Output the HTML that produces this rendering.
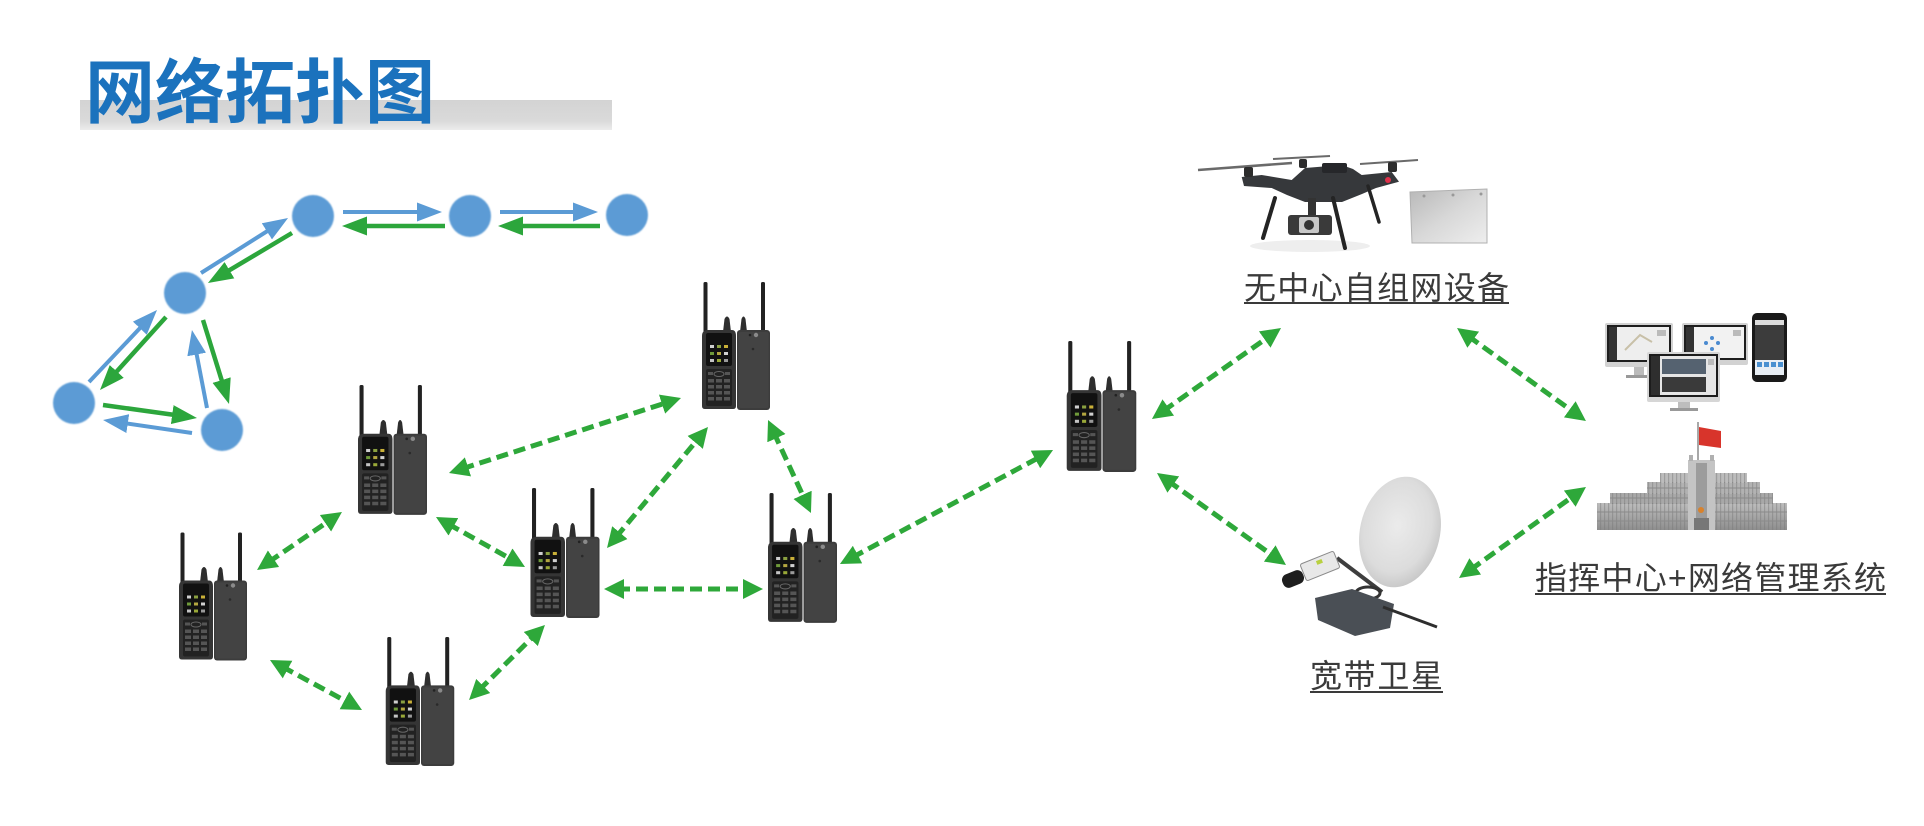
<!DOCTYPE html>
<html>
<head>
<meta charset="utf-8">
<style>
  html, body { margin:0; padding:0; background:#ffffff; }
  svg { display:block; }
</style>
</head>
<body>
<svg width="1924" height="826" viewBox="0 0 1924 826" xmlns="http://www.w3.org/2000/svg">
  <defs>
    <linearGradient id="bar" x1="0" y1="0" x2="0" y2="1">
      <stop offset="0" stop-color="#d3d3d3"/>
      <stop offset="0.7" stop-color="#dadada"/>
      <stop offset="1" stop-color="#ececec"/>
    </linearGradient>
    <linearGradient id="panelg" x1="0" y1="0" x2="1" y2="1">
      <stop offset="0" stop-color="#b8b8b8"/>
      <stop offset="0.5" stop-color="#d8d8d8"/>
      <stop offset="1" stop-color="#eeeeee"/>
    </linearGradient>
    <radialGradient id="dishg" cx="0.45" cy="0.45" r="0.6">
      <stop offset="0" stop-color="#ebebeb"/>
      <stop offset="0.7" stop-color="#dcdcdc"/>
      <stop offset="1" stop-color="#c4c4c4"/>
    </radialGradient>
    <linearGradient id="bldg" x1="0" y1="0" x2="0" y2="1">
      <stop offset="0" stop-color="#bdbdbd"/>
      <stop offset="1" stop-color="#8e8e8e"/>
    </linearGradient>
    <pattern id="win" width="4" height="4" patternUnits="userSpaceOnUse">
      <rect x="0" y="0" width="4" height="4" fill="none"/>
      <rect x="0" y="0" width="1.2" height="4" fill="#777" opacity="0.45"/>
    </pattern>
    <filter id="soft" x="-20%" y="-20%" width="140%" height="140%">
      <feGaussianBlur stdDeviation="0.8"/>
    </filter>
    <marker id="hd" viewBox="0 -10 20 20" refX="6" refY="0" markerWidth="20" markerHeight="20" markerUnits="userSpaceOnUse" orient="auto-start-reverse">
      <path d="M0,-10 L20,0 L0,10 z" fill="#2ea83a"/>
    </marker>
    <marker id="hg" viewBox="0 -10 25 20" refX="11" refY="0" markerWidth="25" markerHeight="20" markerUnits="userSpaceOnUse" orient="auto">
      <path d="M0,-9.5 L25,0 L0,9.5 z" fill="#2ca63c"/>
    </marker>
    <marker id="hb" viewBox="0 -10 25 20" refX="11" refY="0" markerWidth="25" markerHeight="20" markerUnits="userSpaceOnUse" orient="auto">
      <path d="M0,-9.5 L25,0 L0,9.5 z" fill="#5b9bd5"/>
    </marker>

    <!-- walkie-talkie pair -->
    <symbol id="wt" viewBox="0 0 68 130">
      <rect x="1.5" y="0" width="4" height="52" rx="1.5" fill="#222"/>
      <rect x="59" y="0" width="4" height="52" rx="1.5" fill="#222"/>
      <path d="M21,50 L22.5,37 Q25,32 27.5,37 L29,50 z" fill="#2e2e2e"/>
      <path d="M38,50 L39.5,37 Q41.5,32 43.5,37 L45,50 z" fill="#2e2e2e"/>
      <path d="M0,54 Q0,48 6,48 L30,48 Q34,48 34,54 L34,124 Q34,127 31,127 L3,127 Q0,127 0,124 z" fill="#353535"/>
      <rect x="4" y="51" width="26" height="33" rx="2" fill="#111"/>
      <rect x="8" y="63" width="4" height="3" fill="#cfcfcf"/>
      <rect x="15" y="63" width="4" height="3" fill="#8aa040"/>
      <rect x="22" y="63" width="4" height="3" fill="#c9b038"/>
      <rect x="8" y="70" width="4" height="3" fill="#6f9a3a"/>
      <rect x="15" y="70" width="4" height="3" fill="#b3a640"/>
      <rect x="22" y="70" width="4" height="3" fill="#d0d0d0"/>
      <rect x="8" y="77" width="4" height="3" fill="#c4c4c4"/>
      <rect x="15" y="77" width="4" height="3" fill="#99a838"/>
      <rect x="22" y="77" width="4" height="3" fill="#9a9a9a"/>
      <rect x="4" y="87" width="26" height="37" rx="2" fill="#222"/>
      <ellipse cx="17" cy="92" rx="5" ry="2.5" fill="none" stroke="#666" stroke-width="1"/>
      <rect x="6" y="90" width="5" height="3" fill="#555"/>
      <rect x="23" y="90" width="5" height="3" fill="#555"/>
      <g fill="#555">
        <rect x="6" y="97" width="6" height="3.5"/><rect x="14" y="97" width="6" height="3.5"/><rect x="22" y="97" width="6" height="3.5"/>
        <rect x="6" y="103" width="6" height="3.5"/><rect x="14" y="103" width="6" height="3.5"/><rect x="22" y="103" width="6" height="3.5"/>
        <rect x="6" y="109" width="6" height="3.5"/><rect x="14" y="109" width="6" height="3.5"/><rect x="22" y="109" width="6" height="3.5"/>
        <rect x="6" y="115" width="6" height="3.5"/><rect x="14" y="115" width="6" height="3.5"/><rect x="22" y="115" width="6" height="3.5"/>
      </g>
      <rect x="35" y="48" width="33" height="80" rx="3" fill="#3c3c3c"/>
      <rect x="36.5" y="50" width="30" height="76" rx="2" fill="#434343"/>
      <circle cx="54" cy="53" r="2.2" fill="#8a8a8a"/>
      <circle cx="48" cy="53" r="1.3" fill="#222"/>
      <circle cx="51" cy="67" r="1.3" fill="#2a2a2a"/>
    </symbol>
  </defs>

  <rect width="1924" height="826" fill="#ffffff"/>

  <!-- Title -->
  <rect x="80" y="100" width="532" height="30" fill="url(#bar)"/>
  <text x="85" y="117" font-family="'Liberation Sans','Noto Sans CJK SC',sans-serif" font-weight="bold" font-size="70" fill="#1b72bd" textLength="350" lengthAdjust="spacing">网络拓扑图</text>

  <!-- Mesh diagram: solid arrows -->
  <g stroke-width="4" fill="none">
    <line x1="343" y1="212" x2="428" y2="212" stroke="#5b9bd5" marker-end="url(#hb)"/>
    <line x1="445" y1="226" x2="356" y2="226" stroke="#2ca63c" stroke-width="4.5" marker-end="url(#hg)"/>
    <line x1="500" y1="212" x2="584" y2="212" stroke="#5b9bd5" marker-end="url(#hb)"/>
    <line x1="600" y1="226" x2="512" y2="226" stroke="#2ca63c" stroke-width="4.5" marker-end="url(#hg)"/>
    <line x1="201" y1="273" x2="276.2" y2="225.5" stroke="#5b9bd5" marker-end="url(#hb)"/>
    <line x1="292" y1="233" x2="220" y2="275.8" stroke="#2ca63c" stroke-width="4.5" marker-end="url(#hg)"/>
    <line x1="89" y1="382" x2="147.4" y2="320.2" stroke="#5b9bd5" marker-end="url(#hb)"/>
    <line x1="166" y1="317" x2="109.4" y2="379.6" stroke="#2ca63c" stroke-width="4.5" marker-end="url(#hg)"/>
    <line x1="207" y1="408" x2="194.6" y2="343.7" stroke="#5b9bd5" marker-end="url(#hb)"/>
    <line x1="203" y1="320" x2="224.9" y2="390.6" stroke="#2ca63c" stroke-width="4.5" marker-end="url(#hg)"/>
    <line x1="103" y1="405" x2="183.1" y2="416.1" stroke="#2ca63c" stroke-width="4.5" marker-end="url(#hg)"/>
    <line x1="192" y1="433" x2="116.9" y2="422" stroke="#5b9bd5" marker-end="url(#hb)"/>
  </g>

  <!-- Mesh circles -->
  <g fill="#5b9bd5" filter="url(#soft)">
    <circle cx="313" cy="216" r="21"/>
    <circle cx="470" cy="216" r="21"/>
    <circle cx="627" cy="215" r="21"/>
    <circle cx="185" cy="293" r="21"/>
    <circle cx="74" cy="403" r="21"/>
    <circle cx="222" cy="430" r="21"/>
  </g>

  <!-- Dashed double-headed connectors -->
  <g stroke="#2ea83a" stroke-width="5" stroke-dasharray="12 6" fill="none" marker-start="url(#hd)" marker-end="url(#hd)">
    <line x1="268.6" y1="562.1" x2="330.4" y2="519.9"/>
    <line x1="282.3" y1="666.7" x2="349.7" y2="703.3"/>
    <line x1="479" y1="690.2" x2="535" y2="634.8"/>
    <line x1="462.3" y1="468.7" x2="667.7" y2="402.3"/>
    <line x1="448.2" y1="523.9" x2="512.8" y2="560.1"/>
    <line x1="616" y1="537.2" x2="699" y2="437.8"/>
    <line x1="618" y1="589" x2="749" y2="589"/>
    <line x1="773.9" y1="432.7" x2="805.1" y2="500.3"/>
    <line x1="852.3" y1="557.4" x2="1040.7" y2="456.6"/>
    <line x1="1163.4" y1="410.9" x2="1269.6" y2="336.1"/>
    <line x1="1168.4" y1="481.1" x2="1274.6" y2="556.9"/>
    <line x1="1468.4" y1="336.2" x2="1574.6" y2="412.8"/>
    <line x1="1470.4" y1="569.8" x2="1574.6" y2="495.2"/>
  </g>

  <!-- Walkie-talkies -->
  <use href="#wt" x="179" y="532" width="68" height="131"/>
  <use href="#wt" x="358" y="385" width="69" height="132"/>
  <use href="#wt" x="702" y="282" width="68" height="130"/>
  <use href="#wt" x="530" y="488" width="70" height="132"/>
  <use href="#wt" x="385" y="637" width="70" height="131"/>
  <use href="#wt" x="768" y="493" width="69" height="132"/>
  <use href="#wt" x="1065" y="341" width="73" height="133"/>

  <!-- Drone -->
  <g>
    <ellipse cx="1310" cy="246" rx="60" ry="6" fill="#eeeeee"/>
    <line x1="1198" y1="170" x2="1292" y2="163" stroke="#6a6a6a" stroke-width="2.5"/>
    <line x1="1273" y1="159" x2="1330" y2="156" stroke="#6a6a6a" stroke-width="2"/>
    <line x1="1360" y1="164" x2="1418" y2="160" stroke="#6a6a6a" stroke-width="2"/>
    <polygon points="1241.7,177 1261.7,175 1291.7,180 1305,168 1341.7,165 1353,169 1361.7,175 1391.7,172 1399,181.7 1376,188 1362,194 1342,202 1305,202 1287,195 1271.7,188 1244,186" fill="#36383b"/>
    <rect x="1322" y="163" width="25" height="10" rx="2" fill="#26272a"/>
    <rect x="1244" y="167" width="9" height="10" rx="2" fill="#2c2c2c"/>
    <rect x="1299" y="159" width="8" height="9" rx="2" fill="#2c2c2c"/>
    <rect x="1388" y="162" width="9" height="10" rx="2" fill="#2c2c2c"/>
    <circle cx="1388" cy="180" r="3" fill="#e0304a"/>
    <line x1="1275" y1="198" x2="1263" y2="238" stroke="#242424" stroke-width="4" stroke-linecap="round"/>
    <line x1="1333" y1="198" x2="1345" y2="248" stroke="#242424" stroke-width="4" stroke-linecap="round"/>
    <line x1="1368" y1="186" x2="1379" y2="222" stroke="#242424" stroke-width="3.5" stroke-linecap="round"/>
    <rect x="1308" y="198" width="8" height="18" fill="#333"/>
    <rect x="1288" y="215" width="44" height="20" rx="3" fill="#3a3a3a"/>
    <rect x="1299" y="217" width="20" height="16" rx="2" fill="#c8c8c8"/>
    <circle cx="1309" cy="225" r="5" fill="#333"/>
  </g>
  <!-- Panel -->
  <polygon points="1410,192 1487,189 1487,243 1412,243" fill="url(#panelg)" stroke="#b0b0b0" stroke-width="1"/>
  <g fill="#999"><circle cx="1424" cy="196" r="1.5"/><circle cx="1453" cy="195" r="1.5"/><circle cx="1481" cy="194" r="1.5"/></g>

  <!-- Labels -->
  <g font-family="'Liberation Sans','Noto Sans CJK SC',sans-serif" font-size="32" fill="#3a3a3a">
    <text x="1244" y="299" textLength="265" lengthAdjust="spacing">无中心自组网设备</text>
    <text x="1310" y="687" textLength="133" lengthAdjust="spacing">宽带卫星</text>
    <text x="1535" y="589" textLength="351" lengthAdjust="spacing">指挥中心+网络管理系统</text>
  </g>
  <g fill="#3a3a3a">
    <rect x="1244" y="302" width="265" height="2"/>
    <rect x="1310" y="691" width="133" height="2"/>
    <rect x="1535" y="593" width="351" height="2"/>
  </g>

  <!-- Monitors -->
  <g>
    <rect x="1605" y="323" width="68" height="44" rx="2" fill="#d2d2d2"/>
    <rect x="1607" y="325" width="64" height="37" fill="#1e1e1e"/>
    <rect x="1609" y="327" width="60" height="33" fill="#eeeeee"/>
    <rect x="1609" y="327" width="8" height="33" fill="#333"/>
    <path d="M1625,350 L1640,335 L1652,342" stroke="#c8c0a8" stroke-width="2" fill="none"/>
    <rect x="1657" y="330" width="9" height="6" fill="#bbb"/>
    <rect x="1634" y="367" width="10" height="8" fill="#bbb"/>
    <rect x="1626" y="375" width="26" height="3" fill="#999"/>

    <rect x="1682" y="323" width="66" height="42" rx="2" fill="#d2d2d2"/>
    <rect x="1684" y="325" width="62" height="35" fill="#1e1e1e"/>
    <rect x="1686" y="327" width="58" height="31" fill="#f2f2f2"/>
    <rect x="1686" y="327" width="8" height="31" fill="#333"/>
    <g fill="#4a8ad0"><circle cx="1712" cy="338" r="2"/><circle cx="1706" cy="343" r="2"/><circle cx="1718" cy="343" r="2"/><circle cx="1712" cy="349" r="2"/></g>
    <rect x="1733" y="330" width="8" height="6" fill="#bbb"/>

    <rect x="1647" y="352" width="73" height="50" rx="2" fill="#d6d6d6"/>
    <rect x="1649" y="354" width="69" height="43" fill="#1c1c1c"/>
    <rect x="1651" y="356" width="65" height="39" fill="#e6e6e6"/>
    <rect x="1651" y="356" width="9" height="39" fill="#2e2e2e"/>
    <rect x="1662" y="359" width="44" height="15" fill="#556270"/>
    <rect x="1662" y="377" width="44" height="15" fill="#3a3a3a"/>
    <rect x="1708" y="359" width="6" height="6" fill="#bbb"/>
    <rect x="1678" y="402" width="12" height="6" fill="#bdbdbd"/>
    <rect x="1670" y="408" width="28" height="3" fill="#999"/>

    <rect x="1752" y="313" width="35" height="69" rx="5" fill="#1a1a1a"/>
    <rect x="1755" y="320" width="29" height="55" fill="#3c3c3c"/>
    <rect x="1755" y="320" width="29" height="5" fill="#dddddd"/>
    <rect x="1755" y="360" width="29" height="15" fill="#e8eef4"/>
    <g fill="#4a90d0"><rect x="1757" y="362" width="5" height="5"/><rect x="1764" y="362" width="5" height="5"/><rect x="1771" y="362" width="5" height="5"/><rect x="1778" y="362" width="5" height="5"/></g>
  </g>

  <!-- Building -->
  <g>
    <line x1="1698" y1="422" x2="1698" y2="470" stroke="#8a8a8a" stroke-width="1.5"/>
    <polygon points="1699,427 1721,431 1721,448 1699,445" fill="#d8342b"/>
    <rect x="1597" y="503" width="190" height="27" fill="url(#bldg)"/>
    <rect x="1610" y="493" width="163" height="11" fill="#a8a8a8"/>
    <rect x="1647" y="482" width="113" height="12" fill="#b2b2b2"/>
    <rect x="1660" y="473" width="87" height="10" fill="#bcbcbc"/>
    <rect x="1597" y="503" width="190" height="27" fill="url(#win)"/>
    <rect x="1610" y="493" width="163" height="11" fill="url(#win)"/>
    <rect x="1647" y="482" width="113" height="12" fill="url(#win)"/>
    <rect x="1660" y="473" width="87" height="10" fill="url(#win)"/>
    <g stroke="#8a8a8a" stroke-width="1">
      <line x1="1597" y1="512" x2="1787" y2="512"/>
      <line x1="1597" y1="521" x2="1787" y2="521"/>
      <line x1="1610" y1="498" x2="1773" y2="498"/>
      <line x1="1647" y1="488" x2="1760" y2="488"/>
    </g>
    <rect x="1688" y="460" width="27" height="70" fill="#c4c4c4"/>
    <rect x="1696" y="463" width="11" height="67" fill="#9c9c9c"/>
    <rect x="1689" y="455" width="4" height="6" fill="#b0b0b0"/>
    <rect x="1710" y="455" width="4" height="6" fill="#b0b0b0"/>
    <circle cx="1701" cy="510" r="3" fill="#d9822b"/>
    <rect x="1694" y="518" width="15" height="12" fill="#777"/>
  </g>

  <!-- Satellite -->
  <g>
    <ellipse cx="1400" cy="532" rx="40" ry="56" transform="rotate(13 1400 532)" fill="url(#dishg)"/>
    <line x1="1337" y1="558" x2="1382" y2="592" stroke="#3e3e3e" stroke-width="4"/>
    <ellipse cx="1368" cy="593" rx="12" ry="6" fill="none" stroke="#333" stroke-width="3"/>
    <polygon points="1315,598 1352,589 1394,604 1390,628 1355,636 1318,620" fill="#4a4f55"/>
    <line x1="1383" y1="607" x2="1437" y2="627" stroke="#2e2e2e" stroke-width="3"/>
    <g transform="rotate(-22 1320 566)">
      <rect x="1302" y="557" width="36" height="18" rx="2" fill="#e8e8e8" stroke="#8a8a8a" stroke-width="1"/>
      <rect x="1318" y="560" width="6" height="4" fill="#b8d040"/>
    </g>
    <g transform="rotate(-22 1293 579)">
      <rect x="1282" y="572" width="22" height="14" rx="6" fill="#1e1e1e"/>
    </g>
  </g>
</svg>
</body>
</html>
